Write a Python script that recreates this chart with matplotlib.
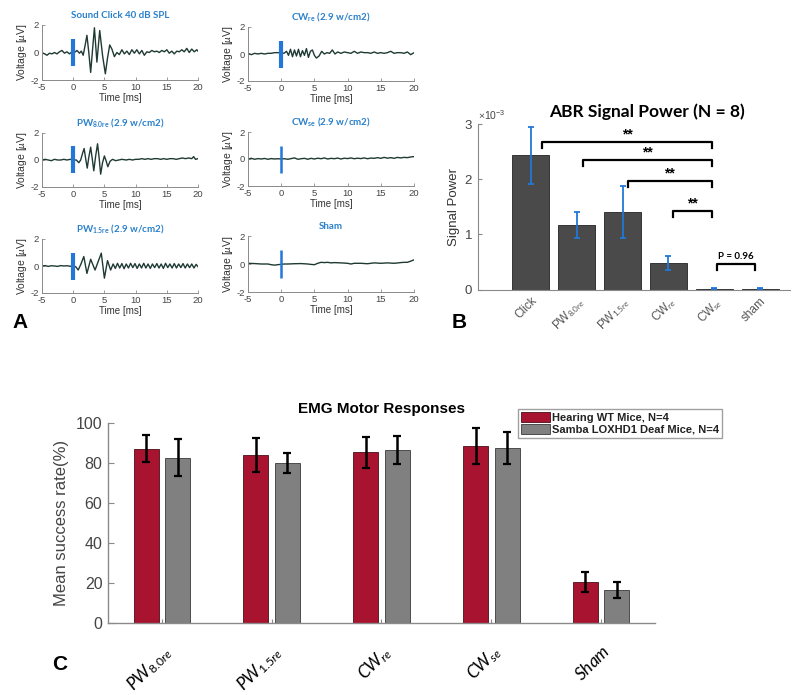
import numpy as np
import matplotlib
matplotlib.use("Agg")
import matplotlib.pyplot as plt

plt.rcParams['font.family'] = ['Liberation Sans', 'DejaVu Sans']
plt.rcParams['axes.unicode_minus'] = False
plt.rcParams['mathtext.fontset'] = 'custom'
plt.rcParams['mathtext.rm'] = 'Lato'
plt.rcParams['mathtext.it'] = 'Lato:italic'
plt.rcParams['mathtext.bf'] = 'Lato:bold'

# ---------------- Panel A data (ABR waveforms) ----------------
click_t = [-5.0, -4.6, -4.2, -3.8, -3.4, -3.0, -2.6, -2.2, -1.8, -1.4, -1.0, -0.6, -0.2, 0.2, 0.6, 1.0, 1.3, 1.6,
           1.9, 2.2, 2.5, 2.8, 3.1, 3.4, 3.8, 4.25, 4.7, 5.15, 5.5, 5.85, 6.2, 6.6, 7.0, 7.4, 7.8, 8.2, 8.6, 9.0,
           9.4, 9.8, 10.2, 10.6, 11.0, 11.4, 11.8, 12.2, 12.6, 13.0, 13.4, 13.8, 14.2, 14.6, 15.0, 15.4, 15.8, 16.2,
           16.6, 17.0, 17.4, 17.8, 18.2, 18.6, 19.0, 19.4, 19.8, 20.0]
click_v = [0.0, -0.1, -0.2, -0.05, -0.1, 0.0, -0.1, 0.05, 0.15, -0.05, 0.05, -0.1, 0.05, 0.0, 0.15, -0.05, 0.1, -0.2,
           0.5, 1.25, 0.0, -1.45, 0.2, 1.8, -0.7, 1.6, -0.2, -1.55, -0.4, 0.55, 0.25, -0.3, 0.0, -0.15, 0.2, -0.1, 0.1, -0.15,
           0.2, -0.05, 0.2, -0.1, 0.15, -0.2, 0.05, 0.0, 0.15, 0.05, 0.1, 0.0, 0.15, 0.05, 0.2, -0.05, 0.1, -0.1,
           0.1, 0.05, 0.2, 0.05, 0.3, 0.0, 0.25, 0.05, 0.2, 0.1]

cwre_t = [-5.0, -4.5, -4.0, -3.5, -3.0, -2.5, -2.0, -1.5, -1.0, -0.5, 0.0, 0.4, 0.8, 1.1, 1.4, 1.7, 2.0, 2.3, 2.6,
          2.9, 3.2, 3.5, 3.8, 4.1, 4.4, 4.7, 5.0, 5.3, 5.7, 6.1, 6.5, 6.9, 7.3, 7.7, 8.1, 8.5, 9.0, 9.5, 10.0, 10.5,
          11.0, 11.5, 12.0, 12.5, 13.0, 13.5, 14.0, 14.5, 15.0, 15.5, 16.0, 16.5, 17.0, 17.5, 18.0, 18.5, 19.0, 19.5, 20.0]
cwre_v = [0.05, -0.05, 0.05, 0.0, 0.05, 0.0, 0.05, 0.05, 0.1, 0.1, 0.1, 0.05, 0.2, -0.1, 0.35, -0.2, 0.3, -0.15, 0.35,
          -0.2, 0.25, -0.1, 0.4, -0.25, 0.2, 0.3, -0.1, -0.3, -0.15, 0.2, 0.0, 0.1, 0.05, 0.3, 0.0, 0.15, 0.05, 0.15, 0.1, 0.05,
          0.2, 0.05, 0.15, 0.1, 0.1, 0.05, 0.15, 0.05, 0.1, 0.05, 0.1, 0.2, 0.05, 0.1, 0.1, 0.05, 0.15, -0.05, 0.1]

pw8_t = [-5.0, -4.5, -4.0, -3.5, -3.0, -2.5, -2.0, -1.5, -1.0, -0.5, 0.0, 0.5, 0.9, 1.2, 1.5, 1.75, 2.0, 2.25, 2.5,
         2.8, 3.05, 3.3, 3.6, 3.9, 4.15, 4.4, 4.7, 5.0, 5.3, 5.55, 5.9, 6.3, 6.8, 7.3, 7.8, 8.5, 9.0, 9.5, 10.0, 10.5,
         11.0, 11.5, 12.0, 12.5, 13.0, 13.5, 14.0, 14.5, 15.0, 15.5, 16.0, 16.5, 17.0, 17.5, 18.0, 18.5, 19.0, 19.3, 19.6, 20.0]
pw8_v = [0.0, 0.05, 0.0, -0.05, 0.05, 0.0, 0.0, 0.05, 0.0, 0.05, 0.0, 0.0, -0.2, 0.0, 0.5, 0.85, 0.1, -0.6, 0.2,
         0.95, 0.1, -0.8, 0.3, 1.2, 0.2, -1.05, -0.2, 0.3, -0.1, -0.5, -0.1, 0.05, -0.05, 0.0, 0.05, 0.0, 0.05, 0.0, 0.05, 0.05,
         0.1, 0.05, 0.1, 0.05, 0.1, 0.1, 0.05, 0.1, 0.05, 0.1, 0.1, 0.05, 0.1, 0.15, 0.1, 0.15, 0.1, 0.25, 0.05, 0.1]

cwse_t = [-5.0, -4.5, -4.0, -3.5, -3.0, -2.5, -2.0, -1.5, -1.0, -0.5, 0.0, 0.5, 1.0, 1.5, 2.0, 2.5, 3.0, 3.5, 4.0,
          4.5, 5.0, 5.5, 6.0, 6.5, 7.0, 7.5, 8.0, 8.5, 9.0, 9.5, 10.0, 10.5, 11.0, 11.5, 12.0, 12.5, 13.0, 13.5, 14.0,
          14.5, 15.0, 15.5, 16.0, 16.5, 17.0, 17.5, 18.0, 18.5, 19.0, 19.5, 20.0]
cwse_v = [0.0, 0.05, -0.02, 0.03, 0.0, 0.04, -0.02, 0.03, 0.0, 0.02, 0.0, 0.02, -0.02, 0.03, 0.08, -0.02, 0.02, 0.05, -0.02,
          0.05, 0.0, 0.06, 0.02, 0.08, 0.0, 0.05, 0.02, 0.07, 0.0, 0.06, 0.03, 0.08, 0.02, 0.06, 0.03, 0.08, 0.02, 0.07, 0.05,
          0.1, 0.05, 0.12, 0.06, 0.1, 0.05, 0.12, 0.08, 0.12, 0.1, 0.15, 0.18]

pw15_t = [-5.0, -4.5, -4.0, -3.5, -3.0, -2.5, -2.0, -1.5, -1.0, -0.5, 0.0, 0.4, 0.8, 1.2, 1.7, 2.2, 2.8, 3.5, 3.9,
          4.5, 5.0, 5.5, 6.0, 6.4, 6.75, 7.1, 7.45, 7.8, 8.15, 8.5, 8.85, 9.2, 9.55, 9.9, 10.25, 10.6, 10.95, 11.3,
          11.65, 12.0, 12.35, 12.7, 13.05, 13.4, 13.75, 14.1, 14.45, 14.8, 15.15, 15.5, 15.85, 16.2, 16.55, 16.9,
          17.25, 17.6, 17.95, 18.3, 18.65, 19.0, 19.35, 19.7, 20.0]
pw15_v = [0.0, 0.03, -0.03, 0.02, 0.0, -0.03, 0.03, 0.0, 0.02, -0.02, 0.0, -0.05, -0.3, 0.1, 0.7, -0.55, 0.5, -0.3, 0.2,
          0.95, -0.9, 0.4, -0.3, 0.15, -0.18, 0.2, -0.15, 0.18, -0.2, 0.15, -0.15, 0.2, -0.12, 0.18, -0.18, 0.15, -0.15,
          0.2, -0.15, 0.15, -0.18, 0.15, -0.12, 0.18, -0.15, 0.15, -0.18, 0.2, -0.12, 0.15, -0.15, 0.18, -0.15, 0.15,
          -0.12, 0.18, -0.15, 0.15, -0.12, 0.15, -0.15, 0.12, -0.05]

sham_t = [-5.0, -4.0, -3.0, -2.0, -1.5, -1.0, -0.5, 0.0, 0.5, 1.0, 2.0, 3.0, 4.0, 4.5, 5.0, 5.5, 6.0, 6.5, 7.0, 7.5,
          8.0, 9.0, 10.0, 10.5, 11.0, 12.0, 13.0, 14.0, 15.0, 16.0, 17.0, 18.0, 18.5, 19.0, 19.5, 20.0]
sham_v = [0.05, 0.03, 0.0, 0.0, -0.05, -0.08, -0.05, -0.02, 0.0, 0.0, 0.02, 0.03, 0.0, -0.03, -0.05, 0.05, 0.12, 0.1,
          0.12, 0.08, 0.1, 0.08, 0.05, 0.0, 0.05, 0.05, 0.02, 0.08, 0.05, 0.08, 0.05, 0.1, 0.12, 0.12, 0.2, 0.3]

stim_onset = 0.0
stim_half = 1.0

# ---------------- Panel B data ----------------
abr_labels = ['Click', 'PW$_{8.0re}$', 'PW$_{1.5re}$', 'CW$_{re}$', 'CW$_{se}$', 'sham']
abr_mean = [2.43e-3, 1.17e-3, 1.41e-3, 0.48e-3, 0.012e-3, 0.012e-3]
abr_err = [0.52e-3, 0.23e-3, 0.47e-3, 0.13e-3, 0.01e-3, 0.01e-3]
brk_x1 = [1.25, 2.13, 3.11, 4.10, 5.06]
brk_x2 = [4.95, 4.95, 4.95, 4.95, 5.89]
brk_y = [2.67e-3, 2.34e-3, 1.96e-3, 1.42e-3, 0.455e-3]
brk_lab = ['**', '**', '**', '**', 'P = 0.96']

# ---------------- Panel C data ----------------
emg_labels = ['$\\mathit{PW}_{\\mathit{8.0re}}$', '$\\mathit{PW}_{\\mathit{1.5re}}$', '$\\mathit{CW}_{\\mathit{re}}$',
              '$\\mathit{CW}_{\\mathit{se}}$', '$\\mathit{Sham}$']
wt_mean = [87.0, 84.0, 85.3, 88.2, 20.2]
wt_err = [6.7, 8.5, 7.8, 9.0, 5.0]
deaf_mean = [82.6, 80.0, 86.5, 87.5, 16.5]
deaf_err = [9.2, 5.0, 6.9, 8.0, 4.0]
series_names = ['Hearing WT Mice, N=4', 'Samba LOXHD1 Deaf Mice, N=4']

W, H = 800, 695
fig = plt.figure(figsize=(W / 100, H / 100), dpi=100)


def rect(x0, y0, x1, y1):
    return [x0 / W, 1 - y1 / H, (x1 - x0) / W, (y1 - y0) / H]


trace_col = '#1f3a33'
stim_col = '#2277d8'
title_col = '#2a80cc'
axis_col = '#8a8a8a'
tick_col = '#444444'


def wave(r, t, v, title, barw):
    ax = fig.add_axes(r)
    ax.plot(t, v, color=trace_col, lw=1.0)
    ax.vlines(stim_onset, -stim_half, stim_half, color=stim_col, lw=barw, zorder=3)
    ax.set_xlim(-5, 20)
    ax.set_ylim(-2, 2)
    ax.set_xticks([-5, 0, 5, 10, 15, 20])
    ax.set_yticks([-2, 0, 2])
    for s in ['top', 'right']:
        ax.spines[s].set_visible(False)
    for s in ['left', 'bottom']:
        ax.spines[s].set_color(axis_col)
        ax.spines[s].set_linewidth(0.7)
    ax.tick_params(direction='in', length=2, width=0.6, color=axis_col, labelsize=6.8,
                   labelcolor=tick_col, pad=2)
    ax.set_xlabel('Time [ms]', fontsize=7, color='#333333', labelpad=1)
    ax.set_ylabel('Voltage [$\\mathit{\\mu}$V]', fontsize=7.5, color='#333333', labelpad=1)
    ax.set_title(title, fontsize=7, color=title_col, fontweight='bold', pad=5, family=['Lato', 'DejaVu Sans'])
    return ax


wave(rect(42, 25, 198, 80), click_t, click_v, 'Sound Click 40 dB SPL', 3.0)
wave(rect(248, 27, 414, 81), cwre_t, cwre_v, 'CW$_{\\mathbf{re}}$ (2.9 w/cm2)', 3.0)
wave(rect(42, 133, 198, 187), pw8_t, pw8_v, 'PW$_{\\mathbf{8.0re}}$ (2.9 w/cm2)', 3.0)
wave(rect(248, 132, 414, 186), cwse_t, cwse_v, 'CW$_{\\mathbf{se}}$ (2.9 w/cm2)', 1.8)
wave(rect(42, 239, 198, 293), pw15_t, pw15_v, 'PW$_{\\mathbf{1.5re}}$ (2.9 w/cm2)', 3.0)
wave(rect(248, 236, 414, 292), sham_t, sham_v, 'Sham', 1.8)

# ---------------- Panel B ----------------
axB = fig.add_axes(rect(478, 124, 790, 289.5))
xb = np.arange(1, len(abr_mean) + 1)
axB.bar(xb, abr_mean, width=0.8, color='#4a4a4a', edgecolor='#222222', lw=0.6, zorder=2)
axB.errorbar(xb, abr_mean, yerr=abr_err, fmt='none', ecolor=stim_col, elinewidth=1.3, capsize=2, capthick=1.3, zorder=3)
axB.set_xlim(-0.15, 6.65)
axB.set_ylim(0, 3e-3)
axB.set_yticks([0, 1e-3, 2e-3, 3e-3])
axB.ticklabel_format(axis='y', style='sci', scilimits=(0, 0), useMathText=True)
axB.yaxis.get_offset_text().set_fontsize(7.5)
axB.yaxis.get_offset_text().set_color('#666666')
axB.set_xticks(xb)
axB.set_xticklabels(abr_labels, rotation=45, ha='right', rotation_mode='anchor', fontsize=8.5, color='#555555')
for s in ['top', 'right']:
    axB.spines[s].set_visible(False)
for s in ['left', 'bottom']:
    axB.spines[s].set_color(axis_col)
axB.tick_params(axis='y', direction='in', length=3, color=axis_col, labelsize=9.5, labelcolor=tick_col)
axB.tick_params(axis='x', length=0, pad=4)
axB.set_ylabel('Signal Power', fontsize=9.5, color='#333333', labelpad=3)
axB.set_title('ABR Signal Power (N = 8)', fontsize=12.5, fontweight='bold', family=['Lato', 'DejaVu Sans'],
              pad=5, x=0.54)
drop = 0.1e-3
for x1, x2, y, lab in zip(brk_x1, brk_x2, brk_y, brk_lab):
    axB.plot([x1, x1, x2, x2], [y - drop, y, y, y - drop], color='black', lw=1.6, zorder=4)
    if lab == '**':
        axB.text((x1 + x2) / 2, y + 0.02e-3, lab, ha='center', va='bottom', fontsize=10, fontweight='bold')
    else:
        axB.text((x1 + x2) / 2, y + 0.06e-3, lab, ha='center', va='bottom', fontsize=7, fontweight='bold',
                 family=['Lato', 'DejaVu Sans'])

# ---------------- Panel C ----------------
axC = fig.add_axes(rect(108, 422.7, 655, 622.7))
xc = np.arange(1, len(wt_mean) + 1)
off = 0.143
bw = 0.227
ekw = dict(ecolor='black', lw=1.8, capsize=3, capthick=1.6)
b1 = axC.bar(xc - off, wt_mean, bw, yerr=wt_err, color='#a8132f', edgecolor='#4a1018', lw=0.6,
             error_kw=ekw, label=series_names[0], zorder=2)
b2 = axC.bar(xc + off, deaf_mean, bw, yerr=deaf_err, color='#808080', edgecolor='#3a3a3a', lw=0.6,
             error_kw=ekw, label=series_names[1], zorder=2)
axC.set_xlim(0.51, 5.49)
axC.set_ylim(0, 100)
axC.set_yticks([0, 20, 40, 60, 80, 100])
axC.set_xticks(xc)
axC.set_xticklabels(emg_labels, rotation=45, ha='right', rotation_mode='anchor', fontsize=12.5, color='black')
for s in ['top', 'right']:
    axC.spines[s].set_visible(False)
for s in ['left', 'bottom']:
    axC.spines[s].set_color(axis_col)
    axC.spines[s].set_linewidth(1.0)
axC.tick_params(axis='y', direction='in', length=4, color=axis_col, labelsize=11.5, labelcolor=tick_col, pad=4)
axC.tick_params(axis='x', direction='in', length=3, color=axis_col, pad=14)
axC.set_ylabel('Mean success rate(%)', fontsize=12, color='#444444', labelpad=5)
axC.set_title('EMG Motor Responses', fontsize=11, fontweight='bold', pad=7)
leg = fig.legend(handles=[b1, b2], loc='upper left', bbox_to_anchor=(518 / W, 1 - 409 / H),
                 fontsize=8, frameon=True, fancybox=False, edgecolor='#888888', borderpad=0.25,
                 handlelength=2.6, handleheight=1.0, handletextpad=0.2, labelspacing=0.15, borderaxespad=0)
for txt in leg.get_texts():
    txt.set_fontweight('bold')
    txt.set_color('#222222')

# panel letters
fig.text(12 / W, 1 - 322 / H, 'A', fontsize=15, fontweight='bold', va='center')
fig.text(452 / W, 1 - 322 / H, 'B', fontsize=15, fontweight='bold', va='center')
fig.text(52 / W, 1 - 664 / H, 'C', fontsize=15, fontweight='bold', va='center')

fig.savefig('out.png', dpi=100)
